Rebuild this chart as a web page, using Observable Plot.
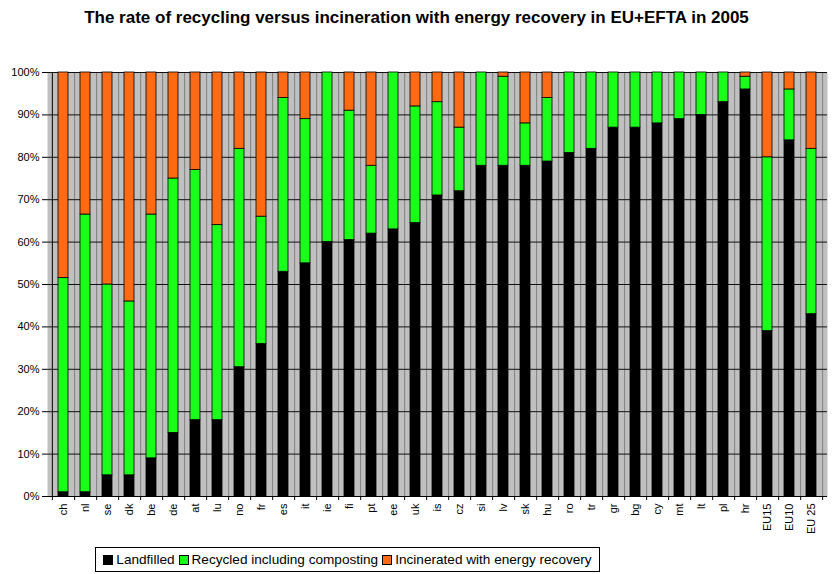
<!DOCTYPE html>
<html>
<head>
<meta charset="utf-8">
<script src="https://cdn.jsdelivr.net/npm/d3@7"></script>
<script src="https://cdn.jsdelivr.net/npm/@observablehq/plot@0.6"></script>
<style>
  body { margin: 0; background: white; font-family: "Liberation Sans", Arial, sans-serif; }
  #wrap { position: relative; width: 833px; height: 574px; }
  #title { height: 36px; line-height: 36px; text-align: center; font-weight: bold; font-size: 17px; }
  #legend { position: absolute; left: 95px; top: 547px; width: 503px; height: 23px; box-sizing: content-box;
            border: 1px solid #000; background: #fff; font-size: 13.6px; white-space: nowrap;
            display: flex; align-items: center; justify-content: center; }
  #legend span.sw { display: inline-block; width: 8px; height: 8px; border: 1px solid #000; margin: 0 3px 0 4px; }
  #legend span.sw:first-child { margin-left: 0; }
</style>
</head>
<body>
<div id="wrap">
  <div id="title">The rate of recycling versus incineration with energy recovery in EU+EFTA in 2005</div>
  <div id="chart"></div>
  <div id="legend"></div>
</div>
<script>
const categories = ["ch","nl","se","dk","be","de","at","lu","no","fr","es","it","ie","fi","pt","ee","uk","is","cz","si","lv","sk","hu","ro","tr","gr","bg","cy","mt","lt","pl","hr","EU15","EU10","EU 25"];
const landfilled  = [1, 1, 5, 5, 9, 15, 18, 18, 30.5, 36, 53, 55, 60, 60.5, 62, 63, 64.5, 71, 72, 78, 78, 78, 79, 81, 82, 87, 87, 88, 89, 90, 93, 96, 39, 84, 43];
const recycled    = [50.5, 65.5, 45, 41, 57.5, 60, 59, 46, 51.5, 30, 41, 34, 40, 30.5, 16, 37, 27.5, 22, 15, 22, 21, 10, 15, 19, 18, 13, 13, 12, 11, 10, 7, 3, 41, 12, 39];
const incinerated = [48.5, 33.5, 50, 54, 33.5, 25, 23, 36, 18, 34, 6, 11, 0, 9, 22, 0, 8, 7, 13, 0, 1, 12, 6, 0, 0, 0, 0, 0, 0, 0, 0, 1, 20, 4, 18];
const series = ["Landfilled", "Recycled including composting", "Incinerated with energy recovery"];
const colors = ["#000000", "#1aff1a", "#ff6a13"];
const yTicks = d3.range(0, 11).map(d => d / 10);

const data = categories.flatMap((c, i) => [
  {cat: c, type: series[0], value: landfilled[i] / 100},
  {cat: c, type: series[1], value: recycled[i] / 100},
  {cat: c, type: series[2], value: incinerated[i] / 100}
]);

const width = 833, marginLeft = 47, marginRight = 6;
const half = (width - marginLeft - marginRight) / categories.length / 2;

const chart = Plot.plot({
  width, height: 510,
  marginTop: 36, marginLeft, marginRight, marginBottom: 50,
  style: {fontFamily: "Liberation Sans, Arial, sans-serif", fontSize: "11px", background: "white", color: "black", overflow: "visible"},
  x: {domain: categories, paddingInner: 0.56, paddingOuter: 0.28, label: null, tickRotate: -90, tickSize: 0, tickPadding: 7},
  y: {domain: [0, 1], ticks: yTicks, tickFormat: d3.format(".0%"), label: null, tickSize: 5, tickPadding: 3},
  color: {domain: series, range: colors},
  marks: [
    Plot.frame({fill: "#c0c0c0"}),
    Plot.ruleX(categories, {x: d => d, dx: half, stroke: "#808080", strokeWidth: 1}),
    Plot.ruleY(yTicks, {stroke: "#111", strokeWidth: 1}),
    Plot.barY(data, {x: "cat", y: "value", fill: "type", stroke: "black", strokeWidth: 0.8}),
    Plot.ruleY([0], {stroke: "black", strokeWidth: 1}),
    Plot.ruleX([categories[0]], {x: d => d, dx: -half, stroke: "black", strokeWidth: 1}),
    Plot.ruleX(categories, {x: d => d, dx: half, y1: 0, y2: 0, insetBottom: -4, stroke: "black"}),
    Plot.ruleX([categories[0]], {x: d => d, dx: -half, y1: 0, y2: 0, insetBottom: -4, stroke: "black"}),
    Plot.axisY({ticks: yTicks, tickFormat: d3.format(".0%"), tickSize: 5, tickPadding: 3, label: null})
  ]
});
document.getElementById("chart").appendChild(chart);

const legend = document.getElementById("legend");
series.forEach((s, i) => {
  const sw = document.createElement("span");
  sw.className = "sw";
  sw.style.background = colors[i];
  legend.appendChild(sw);
  const t = document.createElement("span");
  t.textContent = s;
  legend.appendChild(t);
});
</script>
</body>
</html>
